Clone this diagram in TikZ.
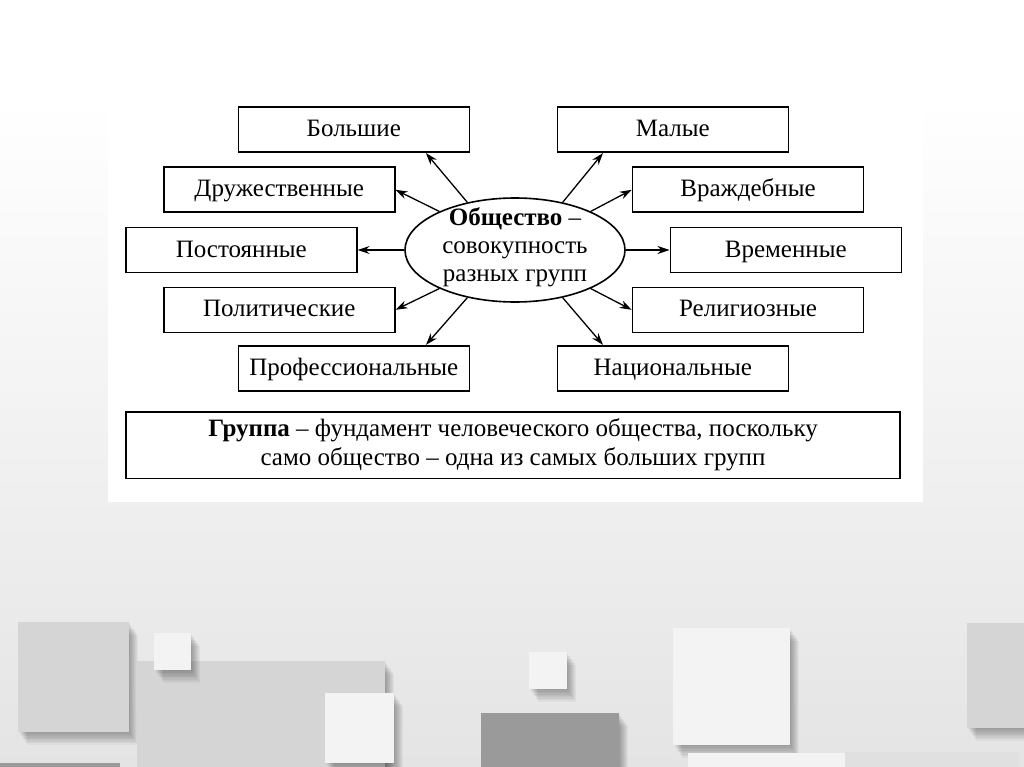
\documentclass[tikz,border=0pt]{standalone}
\usepackage{fontspec}
\setmainfont{Liberation Serif}
\usetikzlibrary{arrows.meta,shapes.geometric,calc}
\definecolor{bgbot}{HTML}{E4E4E4}
\definecolor{sqgray}{HTML}{D5D5D5}
\definecolor{sqwhite}{HTML}{F3F3F3}
\definecolor{sqdark}{HTML}{9A9A9A}
\definecolor{sqlight}{HTML}{E0E0E0}
\newcommand{\mysqshadow}[4]{%
  \foreach \k in {1,...,9}{\fill[black,opacity=0.04] ({#1+\k},{#2+1.4*\k}) rectangle ({#3+\k},{#4+1.4*\k});}}
\begin{document}
\begin{tikzpicture}[x=1pt,y=-1pt,
  txt/.style={font=\fontsize{25}{28}\selectfont},
  grp/.style={draw, line width=1.6pt, minimum width=231pt, minimum height=45pt, inner sep=0pt, text height=19pt, text depth=5pt, txt},
  arr/.style={line width=1.3pt, -{Stealth[length=12pt,width=8pt]}}]
\useasboundingbox (0,0) rectangle (1024,767);
% background
\fill[white] (0,0) rectangle (1024,100);
\shade[top color=white, bottom color=bgbot] (0,100) rectangle (1024,767);
\fill[white] (108,80) rectangle (923,502);
% decorative squares
\mysqshadow{18}{622}{129}{732}
\fill[sqgray] (18,622) rectangle (129,732);
\mysqshadow{137}{661}{385}{767}
\fill[sqgray] (137,661) rectangle (385,767);
\mysqshadow{154}{633}{191}{670}
\fill[sqwhite] (154,633) rectangle (191,670);
\mysqshadow{325}{693}{394}{763}
\fill[sqwhite] (325,693) rectangle (394,763);
\fill[sqdark] (0,763) rectangle (120,767);
\mysqshadow{481}{713}{619}{767}
\fill[sqdark] (481,713) rectangle (619,767);
\mysqshadow{529}{652}{567}{689}
\fill[sqwhite] (529,652) rectangle (567,689);
\mysqshadow{673}{628}{790}{745}
\fill[sqwhite] (673,628) rectangle (790,745);
\fill[sqwhite] (688,753) rectangle (845,767);
\fill[sqlight] (845,752) rectangle (1019,767);
\mysqshadow{967}{623}{1024}{728}
\fill[sqgray] (967,623) rectangle (1024,728);
% diagram
\node[grp] (bol)  at (353.8,129.7) {Большие};
\node[grp] (mal)  at (672.8,129.7) {Малые};
\node[grp] (dru)  at (279.2,189.8) {Дружественные};
\node[grp] (vra)  at (748,189.8)   {Враждебные};
\node[grp] (post) at (241.3,250)   {Постоянные};
\node[grp] (vrem) at (785.8,250)   {Временные};
\node[grp] (pol)  at (279.2,309.8) {Политические};
\node[grp] (rel)  at (748,309.8)   {Религиозные};
\node[grp] (prof) at (353.8,368.2) {Профессиональные};
\node[grp] (nat)  at (672.8,368.2) {Национальные};
\node[draw, line width=1.6pt, minimum width=774pt, minimum height=66.6pt, inner sep=0pt, align=center, font=\fontsize{25}{29}\selectfont] (fund) at (513,445)
  {\textbf{Группа} – фундамент человеческого общества, поскольку\\само общество – одна из самых больших групп};
\node[draw, ellipse, line width=1.6pt, minimum width=220pt, minimum height=104pt, inner sep=0pt] (soc) at (515,250) {};
\node[txt, align=center, inner sep=0pt, yshift=3pt] (soctext) at (soc) {\textbf{Общество} –\\совокупность\\разных групп};
% arrows
\draw[arr] (soc.135) -- ($(bol.south west)!0.81!(bol.south east)$);
\draw[arr] (soc.153) -- (dru.east);
\draw[arr] (soc.180) -- (post.east);
\draw[arr] (soc.207) -- (pol.east);
\draw[arr] (soc.225) -- ($(prof.north west)!0.81!(prof.north east)$);
\draw[arr] (soc.45) -- ($(mal.south west)!0.2!(mal.south east)$);
\draw[arr] (soc.27) -- (vra.west);
\draw[arr] (soc.0) -- (vrem.west);
\draw[arr] (soc.-27) -- (rel.west);
\draw[arr] (soc.-45) -- ($(nat.north west)!0.2!(nat.north east)$);
\end{tikzpicture}
\end{document}
